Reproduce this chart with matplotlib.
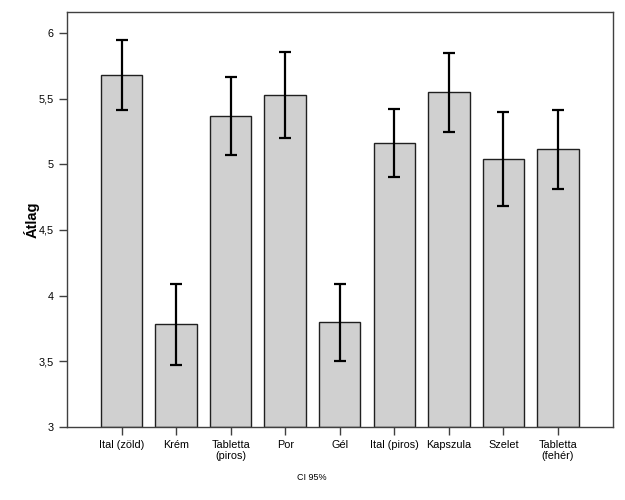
import matplotlib
matplotlib.use("Agg")
import matplotlib.pyplot as plt
from matplotlib.ticker import FuncFormatter

categories = ["Ital (zöld)", "Krém", "Tabletta\n(piros)", "Por", "Gél",
              "Ital (piros)", "Kapszula", "Szelet", "Tabletta\n(fehér)"]
means = [5.682, 3.780, 5.372, 5.527, 3.796, 5.161, 5.550, 5.039, 5.115]
ci_low = [5.417, 3.470, 5.074, 5.199, 3.503, 4.901, 5.247, 4.680, 4.812]
ci_high = [5.949, 4.090, 5.667, 5.855, 4.085, 5.425, 5.852, 5.400, 5.417]
yticks = [3, 3.5, 4, 4.5, 5, 5.5, 6]

plt.rcParams['font.family'] = ['Liberation Sans', 'DejaVu Sans']

fig = plt.figure(figsize=(6.25, 5), dpi=100)
ax = fig.add_axes([0.1072, 0.1466, 0.98 - 0.1072, 0.9754 - 0.1466])

x = list(range(len(categories)))
ax.bar(x, [m - 3 for m in means], bottom=3, width=0.76, color="#d0d0d0",
       edgecolor="#202020", linewidth=1.0, zorder=2)
yerr = [[m - l for m, l in zip(means, ci_low)], [h - m for m, h in zip(means, ci_high)]]
ax.errorbar(x, means, yerr=yerr, fmt="none", ecolor="black", elinewidth=1.6,
            capsize=4, capthick=1.6, zorder=3)

ax.set_xlim(-1, 9)
ax.set_ylim(3, 6.16)
ax.set_xticks(x)
ax.set_xticklabels(categories, fontsize=7.8, linespacing=1.15)
ax.set_yticks(yticks)
ax.yaxis.set_major_formatter(FuncFormatter(lambda v, p: (f"{v:g}").replace(".", ",")))
ax.tick_params(axis="both", labelsize=7.8, length=6, width=1, color="#404040", direction="out")
for s in ax.spines.values():
    s.set_color("#404040")
    s.set_linewidth(1)
ax.set_ylabel("Átlag", fontsize=10.5, fontweight="bold")
ax.yaxis.set_label_coords(-0.05, 0.5)
fig.text(0.4992, 0.044, "CI 95%", fontsize=6.5, ha="center", va="center")

fig.savefig("out.png", dpi=100)
